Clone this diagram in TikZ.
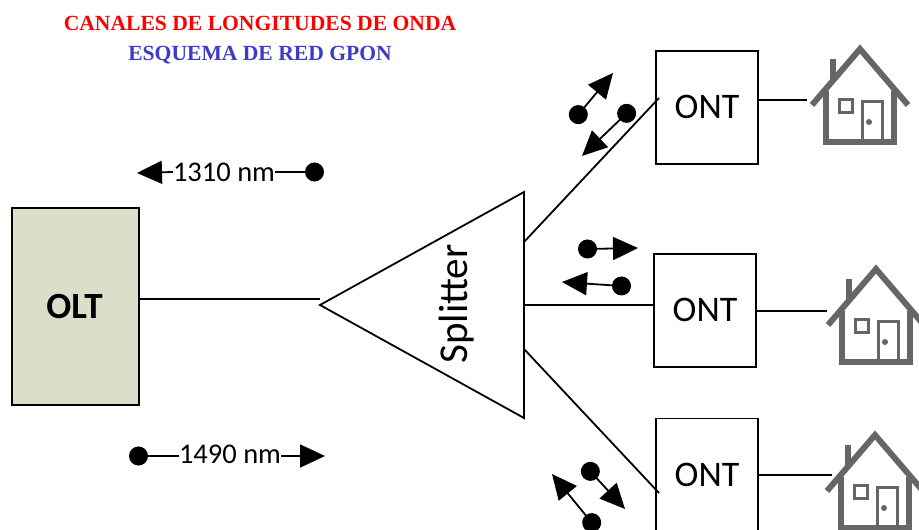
\documentclass[tikz,border=0pt]{standalone}
\usepackage{fontspec}
\setmainfont{Liberation Serif}
\setsansfont{Carlito}
\usetikzlibrary{arrows.meta,shapes.geometric,positioning}
\definecolor{oltfill}{HTML}{DADFC9}
\definecolor{housegray}{HTML}{666666}
\definecolor{titleblue}{HTML}{3C3CC8}
\tikzstyle{ontbox} = [rectangle, draw, line width=1.8pt, minimum width=102pt,
    minimum height=113pt, inner sep=0pt, outer sep=0pt, font=\sffamily\fontsize{36}{36}\selectfont]
\tikzstyle{link} = [line width=1.8pt]
\tikzstyle{title} = [inner sep=0pt, font=\rmfamily\bfseries\fontsize{21.6}{21.6}\selectfont]
\tikzstyle{lambda} = [inner sep=0pt, font=\sffamily\fontsize{28.5}{28.5}\selectfont]
\tikzstyle{beam} = [line width=1.8pt, {Circle[length=19pt,width=19pt]}-{Triangle[length=25pt,width=23pt]}, shorten <=-9pt]
\tikzstyle{beamhead} = [line width=1.8pt, -{Triangle[length=25pt,width=23pt]}]
\tikzstyle{beamtail} = [line width=1.8pt, -{Circle[length=19pt,width=19pt]}]
\tikzset{
  home/.pic={
    \draw [housegray, line width=6pt] (-48,56) -- (0,0) -- (48,56);
    \draw [housegray, line width=6pt] (-34,42) -- (-34,93) -- (34,93) -- (34,42);
    \draw [housegray, line width=6pt] (-27,10) -- (-27,30);
    \draw [housegray, line width=3pt] (-21,50) rectangle (-8,63);
    \draw [housegray, line width=3pt] (2,93) -- (2,52) -- (22,52) -- (22,93);
    \fill [housegray] (9,73) circle (3);
    \coordinate (-tip) at (-53,53);
  }
}
\begin{document}
\begin{tikzpicture}[x=1pt, y=-1pt]
    \useasboundingbox (0,0) rectangle (919,530);
    % Place nodes
    \node [title, red] (canales) at (260,23) {CANALES DE LONGITUDES DE ONDA};
    \node [title, titleblue, below=16pt of canales] (esquema) {ESQUEMA DE RED GPON};
    \node [rectangle, draw, line width=1.8pt, fill=oltfill, minimum width=127pt, minimum height=197pt,
    inner sep=0pt, outer sep=0pt, font=\sffamily\bfseries\fontsize{37}{37}\selectfont] (olt) at (75.5,306.5) {\kern-2pt OLT};
    \node [isosceles triangle, isosceles triangle stretches, shape border rotate=180, draw, line width=1.8pt,
    minimum height=204pt, minimum width=226pt, inner sep=0pt, outer sep=0pt, anchor=apex] (spl) at (320,305) {};
    \node [rotate=90, inner sep=0pt, font=\sffamily\fontsize{41}{41}\selectfont] (spltext) at (457,304) {Splitter};
    \node [ontbox] (ont1) at (707,107.5) {\raisebox{1pt}{ONT}};
    \node [ontbox] (ont2) at (705,310.5) {\raisebox{2pt}{ONT}};
    \node [ontbox] (ont3) at (707,475) {\raisebox{-2pt}{ONT}};
    \pic (h1) at (860,49) {home};
    \pic (h2) at (876,269) {home};
    \pic (h3) at (875,435) {home};
    \node [lambda] (wl1) at (224,172) {1310 nm};
    \node [lambda] (wl2) at (230,454) {1490 nm};
    % Free ends of the small arrows
    \coordinate (tip0) at (137,173);  \coordinate (dot0) at (324,172);
    \coordinate (dot9) at (129,456);  \coordinate (tip9) at (325,456);
    \coordinate (dot1) at (578,115);  \coordinate (tip1) at (613,73);
    \coordinate (dot2) at (627,113);  \coordinate (tip2) at (582,156);
    \coordinate (dot3) at (587,249);  \coordinate (tip3) at (638,248);
    \coordinate (dot4) at (622,286);  \coordinate (tip4) at (562,282);
    \coordinate (dot5) at (590,471);  \coordinate (tip5) at (625,509);
    \coordinate (dot6) at (592,523);  \coordinate (tip6) at (552,474);
    % Draw edges
    \draw [link] ([yshift=7.5pt]olt.east) -- ([yshift=6pt]spl.apex);
    \draw [link] ([yshift=63pt]spl.lower side) -- ([xshift=3pt,yshift=9.5pt]ont1.west);
    \draw [link] (spl.lower side) -- ([yshift=5.5pt]ont2.west);
    \draw [link] ([yshift=-44pt]spl.lower side) -- ([xshift=3pt,yshift=-18pt]ont3.west);
    \draw [link] ([yshift=7.5pt]ont1.east) -- ([yshift=7.5pt]ont1.east -| h1-tip);
    \draw [link] ([yshift=-0.6pt]ont2.east) -- ([xshift=4pt,yshift=-0.6pt]ont2.east -| h2-tip);
    \draw [link] (ont3.east) -- ([xshift=10pt]ont3.east -| h3-tip);
    \draw [beamhead] (wl1.west) -- (tip0);
    \draw [beamtail] (wl1.east) -- (dot0);
    \draw [beamtail] ([yshift=-2pt]wl2.west) -- (dot9);
    \draw [beamhead] ([yshift=-2pt]wl2.east) -- (tip9);
    \draw [beam] (dot1) -- (tip1);
    \draw [beam] (dot2) -- (tip2);
    \draw [beam] (dot3) -- (tip3);
    \draw [beam] (dot4) -- (tip4);
    \draw [beam] (dot5) -- (tip5);
    \draw [beam] (dot6) -- (tip6);
\end{tikzpicture}
\end{document}
